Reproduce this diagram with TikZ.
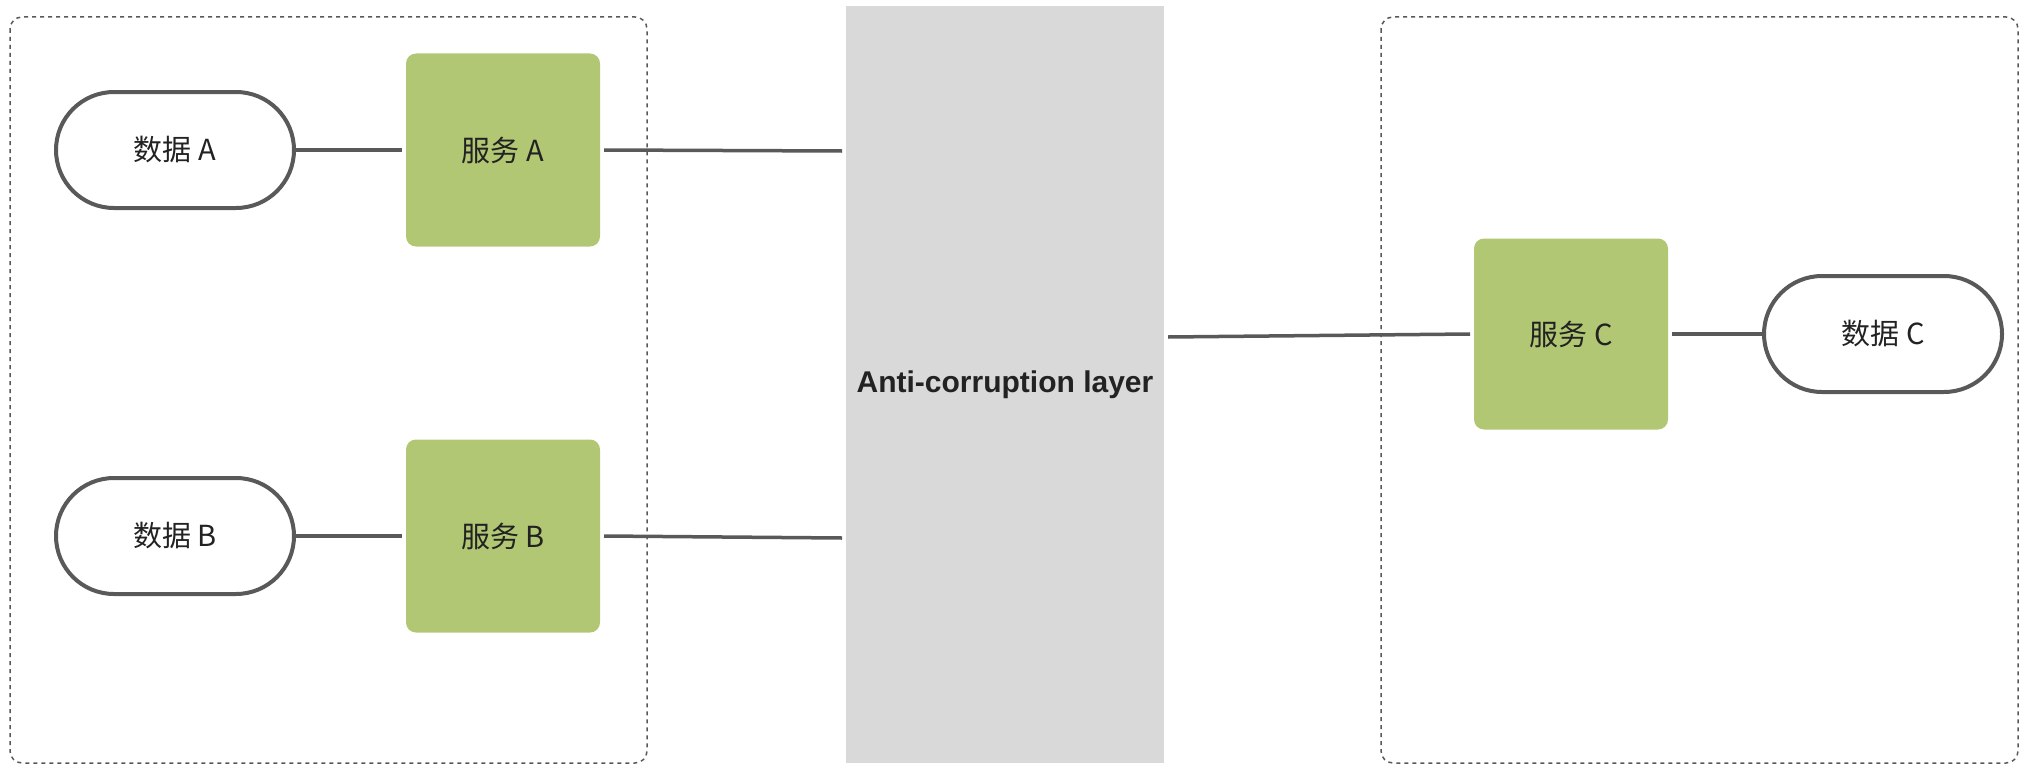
\documentclass[tikz,border=0pt]{standalone}
\usepackage{fontspec}
\setmainfont{Liberation Sans}
\newfontfamily\cjk{Noto Sans CJK SC}
\usetikzlibrary{calc}
\definecolor{svcgreen}{HTML}{B2C774}
\definecolor{aclgray}{HTML}{D9D9D9}
\definecolor{linegray}{HTML}{595959}
\definecolor{txt}{HTML}{222222}
\tikzset{
  databox/.style={draw=linegray, line width=4pt, fill=white, rounded corners=58pt,
    minimum width=238pt, minimum height=116pt, inner sep=0pt, outer sep=0pt,
    font=\cjk\fontsize{29}{32}\selectfont, text=txt},
  svcbox/.style={fill=svcgreen, draw=none, rounded corners=10pt,
    minimum width=194pt, minimum height=193pt, inner sep=0pt, outer sep=4pt,
    font=\cjk\fontsize{29}{32}\selectfont, text=txt},
  aclbox/.style={fill=aclgray, draw=none, minimum width=318pt, minimum height=757pt,
    inner sep=0pt, outer sep=4pt, font=\bfseries\fontsize{30}{34}\selectfont, text=txt},
  zone/.style={draw=linegray, line width=1.5pt, dash pattern=on 4pt off 4pt, rounded corners=12pt},
  link/.style={draw=linegray, line width=3.5pt}
}
\begin{document}
\begin{tikzpicture}[x=1pt,y=-1pt]
\useasboundingbox (0,0) rectangle (2028,776);
\draw[zone] (10,17) rectangle (647,763);
\draw[zone] (1381,17) rectangle (2018,763);
\node[aclbox] (acl) at (1005,384.5) {Anti-corruption layer};
\node[databox] (dA) at (175,150) {数据 A};
\node[svcbox] (sA) at (503,150) {服务 A};
\node[databox] (dB) at (175,536) {数据 B};
\node[svcbox] (sB) at (503,536) {服务 B};
\node[svcbox, minimum height=191pt] (sC) at (1571,334) {服务 C};
\node[databox] (dC) at (1883,334) {数据 C};
\draw[link] (dA.east) -- (sA.west);
\draw[link] (dB.east) -- (sB.west);
\draw[link] (sA.east) -- ($(acl.west |- sA.east)+(0,1)$);
\draw[link] (sB.east) -- ($(acl.west |- sB.east)+(0,2)$);
\draw[link] ($(acl.east |- sC.west)+(0,3)$) -- (sC.west);
\draw[link] (sC.east) -- (dC.west);
\end{tikzpicture}
\end{document}
